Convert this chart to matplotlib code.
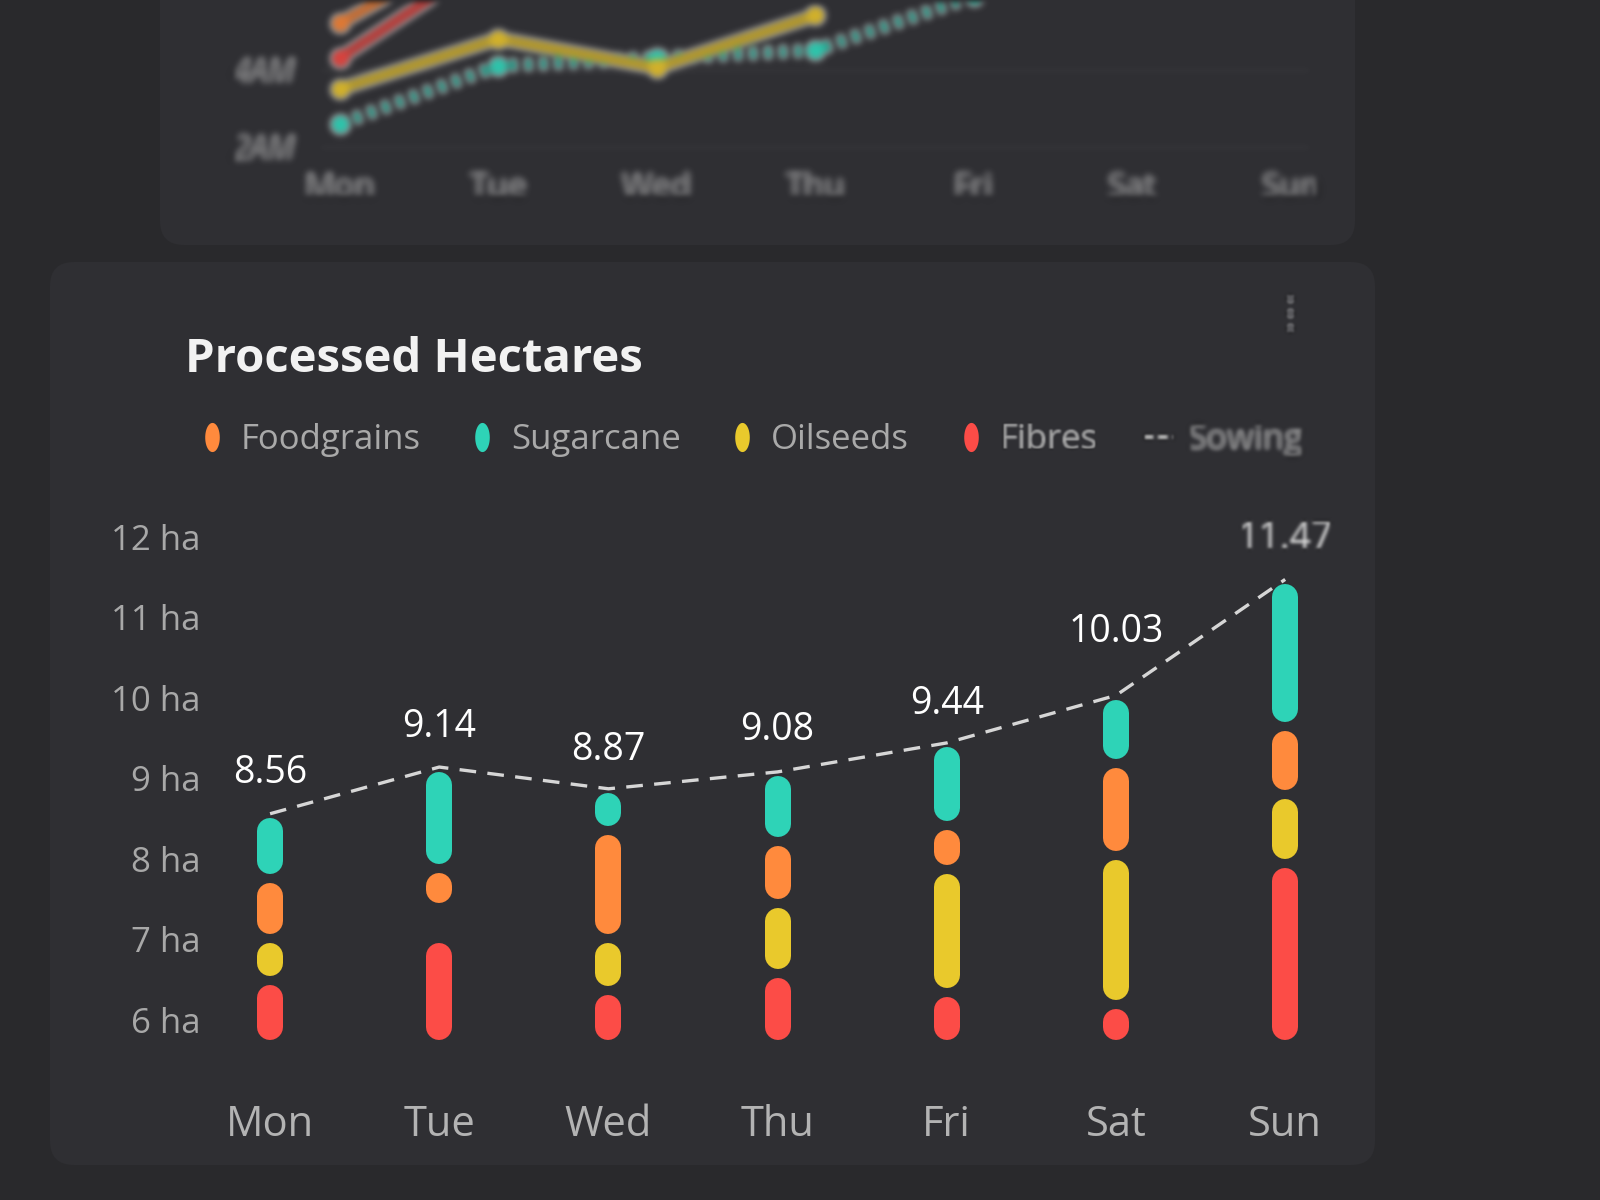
import numpy as np
import matplotlib
matplotlib.use("Agg")
import matplotlib.pyplot as plt
from matplotlib.patches import FancyBboxPatch
from matplotlib.lines import Line2D
from matplotlib.path import Path
from matplotlib.transforms import IdentityTransform

# ---------------- data ----------------
days = ["Mon", "Tue", "Wed", "Thu", "Fri", "Sat", "Sun"]
sowing = [8.56, 9.14, 8.87, 9.08, 9.44, 10.03, 11.47]
base_ha = 5.7
fibres = [0.79, 1.31, 0.67, 0.88, 0.64, 0.49, 2.24]
oilseeds = [0.52, 0.39, 0.64, 0.87, 1.53, 1.85, 0.86]
foodgrains = [0.74, 0.48, 1.34, 0.76, 0.55, 1.14, 0.84]
sugarcane = [0.81, 1.26, 0.52, 0.87, 1.02, 0.85, 1.83]
y_ticks = [6, 7, 8, 9, 10, 11, 12]
y_tick_labels = ["6 ha", "7 ha", "8 ha", "9 ha", "10 ha", "11 ha", "12 ha"]

# upper (partly visible) chart
top_y_ticks = [2, 4]
top_y_labels = ["2AM", "4AM"]
top_teal = [2.6, 4.1, 4.3, 4.5, 5.9]
top_yellow = [3.5, 4.8, 4.05, 5.4]
top_red = [4.3, 7.0]
top_orange = [5.2, 7.5]

# ---------------- style ----------------
BG = "#29292c"
CARD = "#2f2f33"
TEAL = "#2ed3b7"
ORANGE = "#ff8a3d"
YELLOW = "#e9c92c"
RED = "#fc4c47"
FONT = "Open Sans"
plt.rcParams["font.family"] = [FONT, "DejaVu Sans"]


def make_blur(sigma):
    r = int(np.ceil(3 * sigma))
    xk = np.arange(-r, r + 1)
    k = np.exp(-xk ** 2 / (2 * sigma ** 2))
    k /= k.sum()

    def filt(im, dpi):
        a = np.pad(im, ((r, r), (r, r), (0, 0)))
        out = np.zeros_like(a)
        for i, w in enumerate(k):
            out += w * np.roll(a, i - r, axis=0)
        out2 = np.zeros_like(a)
        for i, w in enumerate(k):
            out2 += w * np.roll(out, i - r, axis=1)
        return out2, -r, -r
    return filt


fig = plt.figure(figsize=(16, 12), dpi=100, facecolor=BG)

# cards (pixel coordinates)
fig.add_artist(FancyBboxPatch((160, 955), 1195, 285,
                              boxstyle="round,pad=0,rounding_size=24",
                              transform=IdentityTransform(),
                              facecolor=CARD, edgecolor="none", zorder=0))
fig.add_artist(FancyBboxPatch((50, 35), 1325, 903,
                              boxstyle="round,pad=0,rounding_size=24",
                              transform=IdentityTransform(),
                              facecolor=CARD, edgecolor="none", zorder=0))

# ---------------- upper chart (blurred) ----------------
axt = fig.add_axes([0.2, 0.875, 0.619, 0.125])
axt.set_facecolor("none")
axt.set_xlim(-0.126, 6.126)
axt.set_ylim(1.92, 5.8)
for s in axt.spines.values():
    s.set_visible(False)
axt.set_xticks(range(len(days)))
axt.set_xticklabels(days, color="#858585", fontsize=24)
axt.set_yticks(top_y_ticks)
axt.set_yticklabels(top_y_labels, color="#858585", fontsize=23, style="italic")
axt.tick_params(length=0)
axt.tick_params(axis="x", pad=16)
axt.tick_params(axis="y", pad=18)
for yv in top_y_ticks:
    axt.axhline(yv, color="#ffffff", alpha=0.05, lw=2, zorder=1)
axt.plot(range(len(top_teal)), top_teal, color="#22a690", lw=9,
         ls=(0, (0.6, 0.6)), marker="o", ms=14, mfc="#2ec6ad", mec="none", zorder=3)
axt.plot(range(len(top_yellow)), top_yellow, color="#b59a2c", lw=9,
         marker="o", ms=14, mfc="#d4b32a", mec="none", zorder=4)
axt.plot(range(len(top_red)), top_red, color="#b8403d", lw=9,
         marker="o", ms=14, mfc="#d9433e", mec="none", zorder=5)
axt.plot(range(len(top_orange)), top_orange, color="#c66f36", lw=9,
         marker="o", ms=14, mfc="#e07a35", mec="none", zorder=5)
axt.set_agg_filter(make_blur(3.5))

# ---------------- main chart ----------------
ax = fig.add_axes([0.1375, 0.0917, 0.69375, 0.5167])
ax.set_facecolor("none")
ax.set_xlim(-0.296, 6.265)
ax.set_ylim(5.13, 12.83)
for s in ax.spines.values():
    s.set_visible(False)
ax.set_yticks(y_ticks)
ax.set_yticklabels(y_tick_labels, color="#a8a8a8", fontsize=25)
ax.set_xticks(range(len(days)))
ax.set_xticklabels(days, color="#b3b3b3", fontsize=30)
ax.tick_params(axis="y", length=0, pad=14)
ax.tick_params(axis="x", length=0, pad=10)

LW_PX = 26
GAP_PX = 9
bbox = ax.get_window_extent()
px_per_unit = bbox.height / (ax.get_ylim()[1] - ax.get_ylim()[0])
pad = (LW_PX / 2 + GAP_PX / 2) / px_per_unit
lw_pt = LW_PX * 72 / fig.dpi

series = [(fibres, RED), (oilseeds, YELLOW), (foodgrains, ORANGE), (sugarcane, TEAL)]
for i in range(len(days)):
    bottom = base_ha
    for vals, col in series:
        top = bottom + vals[i]
        y0, y1 = bottom + pad, top - pad
        if y1 < y0:
            y0 = y1 = (bottom + top) / 2
        ax.plot([i, i], [y0, y1], color=col, lw=lw_pt,
                solid_capstyle="round", zorder=2)
        bottom = top

ax.plot(range(len(days)), sowing, color="#d6d6d6", lw=2.4,
        dashes=(5, 3.4), zorder=3)

label_dy = [29, 29, 28, 30, 28, 46, 29]
for i, v in enumerate(sowing):
    t = ax.annotate(f"{v:.2f}", (i, v), xytext=(0, label_dy[i]),
                    textcoords="offset points", ha="center", va="center",
                    color="white", fontsize=27, zorder=5)
    if i == len(sowing) - 1:
        t.set_color("#dddddd")
        t.set_agg_filter(make_blur(1.2))

# ---------------- title & legend ----------------
fig.text(185 / 1600, 1 - 360 / 1200, "Processed Hectares", color="#f2f2f2",
         fontsize=34, fontweight="bold", ha="left", va="center")

theta = np.linspace(0, 2 * np.pi, 40)
pill = Path(np.column_stack([0.5 * np.cos(theta), np.sin(theta)]))
handles = [
    Line2D([], [], ls="none", marker=pill, ms=21, mfc=ORANGE, mec="none"),
    Line2D([], [], ls="none", marker=pill, ms=21, mfc=TEAL, mec="none"),
    Line2D([], [], ls="none", marker=pill, ms=21, mfc=YELLOW, mec="none"),
    Line2D([], [], ls="none", marker=pill, ms=21, mfc=RED, mec="none"),
    Line2D([], [], color="#bdbdbd", lw=4, dashes=(1.6, 1.0)),
]
labels = ["Foodgrains", "Sugarcane", "Oilseeds", "Fibres", "Sowing"]
leg = fig.legend(handles, labels, loc="center left",
                 bbox_to_anchor=(166 / 1600, 1 - 440 / 1200), ncol=5,
                 frameon=False, fontsize=25, handlelength=0.85,
                 handletextpad=0.4, columnspacing=1.35, labelcolor="#a9a9a9")
leg_texts = leg.get_texts()
leg_texts[3].set_agg_filter(make_blur(1.0))
leg_texts[4].set_color("#8e8e8e")
leg_texts[4].set_agg_filter(make_blur(2.2))
leg.legend_handles[4].set_agg_filter(make_blur(1.5))

# kebab menu
kx = 1290 / 1600
kebab = Line2D([kx, kx, kx], [1 - 298 / 1200, 1 - 313 / 1200, 1 - 328 / 1200],
               transform=fig.transFigure, ls="none", marker="o", ms=6,
               mfc="#5a5a5e", mec="none")
kebab.set_agg_filter(make_blur(1.5))
fig.add_artist(kebab)

fig.savefig("out.png", dpi=100, facecolor=BG)
